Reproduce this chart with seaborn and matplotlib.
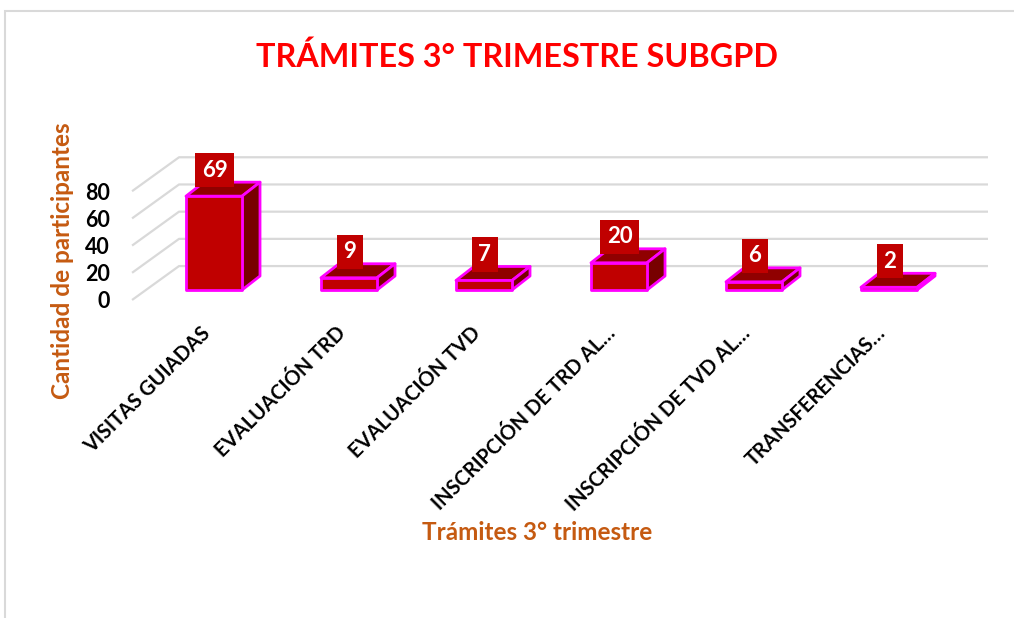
import numpy as np
import pandas as pd
import matplotlib.pyplot as plt
import seaborn as sns
from matplotlib.patches import Polygon, Rectangle

# datos del grafico
categorias = ["VISITAS GUIADAS", "EVALUACIÓN TRD", "EVALUACIÓN TVD",
              "INSCRIPCIÓN DE TRD AL…", "INSCRIPCIÓN DE TVD AL…", "TRANSFERENCIAS…"]
valores = [69, 9, 7, 20, 6, 2]
ticks_y = [0, 20, 40, 60, 80]

titulo = "TRÁMITES 3° TRIMESTRE SUBGPD"
eje_x = "Trámites 3° trimestre"
eje_y = "Cantidad de participantes"

sns.set_theme(style="white")
plt.rcParams['font.family'] = ['Lato', 'DejaVu Sans']

W, H = 1014, 618
fig = plt.figure(figsize=(W / 100, H / 100), dpi=100)
ax = fig.add_axes([0, 0, 1, 1])

df = pd.DataFrame({"tramite": categorias, "cantidad": valores})

ancho = 0.415
rojo = "#C00000"
magenta = "#FF00FF"
sns.barplot(data=df, x="tramite", y="cantidad", color=rojo, saturation=1,
            width=ancho, edgecolor=magenta, linewidth=2, ax=ax, zorder=3)
for p in ax.patches:
    p.set_joinstyle("round")

# escala: 135 px por categoria, 1.36 px por unidad
px_cat, x0 = 135, 214
px_val, y0 = 1.36, 290
ax.set_xlim((0 - x0) / px_cat, (W - x0) / px_cat)
ax.set_ylim((y0 - H) / px_val, y0 / px_val)
ax.set_axis_off()

# profundidad de las barras (efecto 3D)
bx, by = 18 / px_cat, 14 / px_val
for i, v in enumerate(valores):
    l, r = i - ancho / 2, i + ancho / 2
    top = Polygon([(l, v), (r, v), (r + bx, v + by), (l + bx, v + by)],
                  closed=True, fc="#900000", ec=magenta, lw=2, joinstyle="round", zorder=2)
    side = Polygon([(r, 0), (r + bx, by), (r + bx, v + by), (r, v)],
                   closed=True, fc="#780000", ec=magenta, lw=2, joinstyle="round", zorder=2)
    ax.add_patch(top)
    ax.add_patch(side)
    ax.text(i + 0.005, v + by / 2 + 19 / px_val, str(v), ha="center", va="center",
            color="white", fontsize=16, fontweight="bold", zorder=6,
            bbox=dict(boxstyle="square,pad=0.3", fc=rojo, ec="none"))

# lineas de division (pared izquierda y fondo)
xf, yf = -0.607, -7.35
xb, yb = -0.259, 17.6
xr = (988 - x0) / px_cat
for k in ticks_y:
    ax.plot([xf, xb, xr], [yf + k, yb + k, yb + k], color="#D9D9D9", lw=1.6, zorder=1,
            solid_capstyle="butt")
    ax.text((110 - x0) / px_cat, -8.8 + k, str(k), ha="right", va="center",
            fontsize=15.5, fontweight="bold", color="black")

# etiquetas de categoria
for i, c in enumerate(categorias):
    ax.text(i - 0.1, (y0 - 323) / px_val, c, rotation=45, rotation_mode="anchor",
            ha="right", va="top", fontsize=14.5, fontweight="bold", color="black")

fig.text(517 / W, 1 - 57 / H, titulo, ha="center", va="center", color="#FF0000",
         fontsize=23.3, fontweight="bold")
fig.text(537 / W, 1 - 532 / H, eje_x, ha="center", va="center", color="#C55A11",
         fontsize=17.5, fontweight="bold")
fig.text(63 / W, 1 - 261 / H, eje_y, ha="center", va="center", rotation=90,
         color="#C55A11", fontsize=17.5, fontweight="bold")

fig.add_artist(Rectangle((5 / W, -0.05), 1.1, (H - 11) / H + 0.05, transform=fig.transFigure,
                         fill=False, ec="#D9D9D9", lw=1.5))

fig.savefig("out.png", dpi=100)
